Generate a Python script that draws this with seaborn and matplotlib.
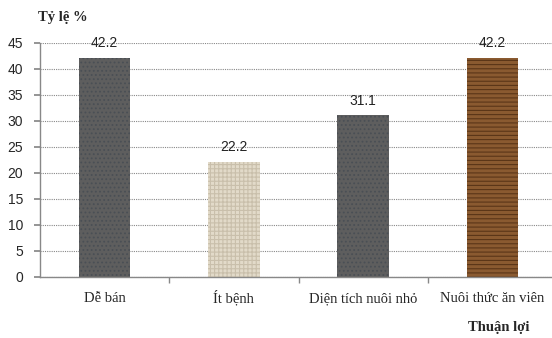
import matplotlib
matplotlib.use("Agg")
import matplotlib.pyplot as plt
import seaborn as sns
import pandas as pd

categories = ["Dễ bán", "Ít bệnh", "Diện tích nuôi nhỏ", "Nuôi thức ăn viên"]
values = [42.2, 22.2, 31.1, 42.2]
yticks = [0, 5, 10, 15, 20, 25, 30, 35, 40, 45]

face_colors = ["#5e5e5e", "#e2dac9", "#5e5e5e", "#8a5a30"]
hatch_colors = ["#4a4f55", "#c9bfab", "#4a4f55", "#5a3518"]
hatches = ["....", "++++", "....", "----"]

sns.set_theme(style="white")
plt.rcParams["font.family"] = ["Liberation Serif", "DejaVu Serif"]
plt.rcParams["hatch.linewidth"] = 0.8

fig = plt.figure(figsize=(5.52, 3.38), dpi=100)
ax = fig.add_axes([40 / 552, 1 - 277 / 338, 517 / 552, 234 / 338])

df = pd.DataFrame({"cat": categories, "val": values})
sns.barplot(data=df, x="cat", y="val", ax=ax, width=0.4, saturation=1,
            color="#5e5e5e")

for patch, fc, hc, h in zip(ax.patches, face_colors, hatch_colors, hatches):
    patch.set_facecolor(fc)
    patch.set_edgecolor(hc)
    patch.set_hatch(h)
    patch.set_linewidth(0)

# value labels above each bar
for patch, v in zip(ax.patches, values):
    ax.text(patch.get_x() + patch.get_width() / 2, v + 1.4, f"{v:.1f}",
            ha="center", va="bottom", fontsize=10, family="Liberation Sans",
            color="#222222")

ax.set_xlim(-0.5, 3.5)
ax.set_ylim(0, 45)
ax.set_yticks(yticks)
ax.set_yticklabels([str(t) for t in yticks], family="Liberation Sans",
                   fontsize=10)
ax.set_xticks(range(len(categories)))
ax.set_xticklabels(categories, fontsize=10.5)
for lbl in ax.get_xticklabels():
    lbl.set_verticalalignment("baseline")
ax.set_xlabel("")
ax.set_ylabel("")

ax.yaxis.grid(True, linestyle=(0, (1, 1)), color="#888888", linewidth=0.8)
ax.set_axisbelow(True)

for s in ["top", "right"]:
    ax.spines[s].set_visible(False)
for s in ["left", "bottom"]:
    ax.spines[s].set_color("#888888")
    ax.spines[s].set_linewidth(1)

ax.tick_params(axis="y", length=4, color="#888888", direction="out",
               pad=8, left=True)
ax.tick_params(axis="x", length=0, pad=18)
ax.set_xticks([0.5, 1.5, 2.5, 3.5], minor=True)
ax.tick_params(axis="x", which="minor", length=4, color="#888888",
               direction="out", bottom=True)

fig.text(38 / 552, 1 - 18 / 338, "Tỷ lệ %", fontsize=10.5, fontweight="bold",
         ha="left", va="center")
fig.text(530 / 552, 1 - 328 / 338, "Thuận lợi", fontsize=10.5,
         fontweight="bold", ha="right", va="center")

fig.savefig("out.png", dpi=100)
